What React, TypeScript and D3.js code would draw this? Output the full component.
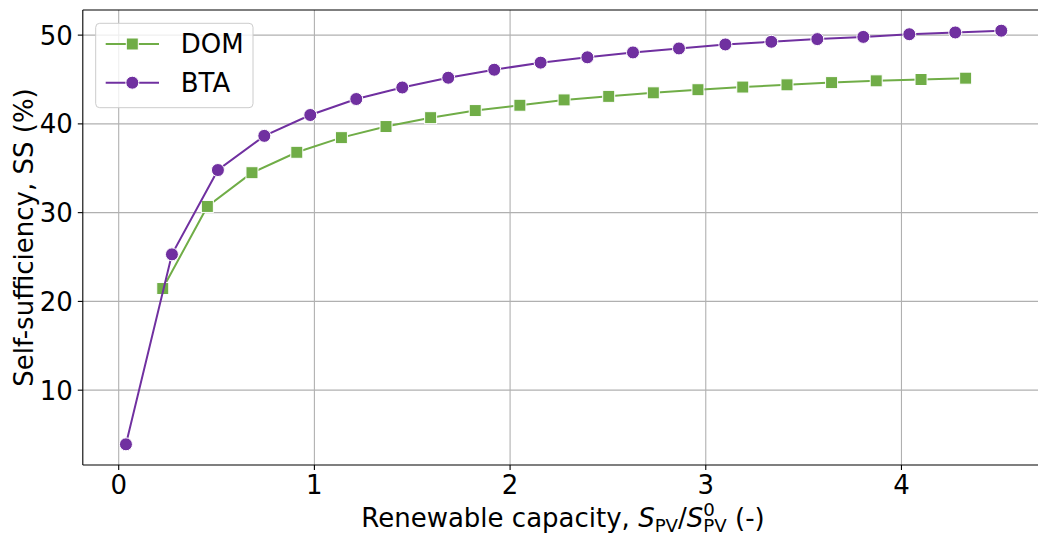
import React from "react";
import * as d3 from "d3";

const xTicks = [0, 1, 2, 3, 4];
const yTicks = [10, 20, 30, 40, 50];

const domX = [0.225, 0.453, 0.681, 0.91, 1.138, 1.366, 1.594, 1.822, 2.05, 2.276, 2.504, 2.732, 2.96, 3.189, 3.415, 3.643, 3.871, 4.1, 4.328];
const domY = [21.45, 30.7, 34.5, 36.8, 38.45, 39.7, 40.7, 41.5, 42.1, 42.7, 43.1, 43.5, 43.85, 44.15, 44.4, 44.65, 44.85, 45.0, 45.15];

const btaX = [0.037, 0.272, 0.507, 0.744, 0.979, 1.214, 1.449, 1.684, 1.919, 2.156, 2.395, 2.628, 2.863, 3.1, 3.335, 3.57, 3.805, 4.04, 4.275, 4.51];
const btaY = [3.9, 25.3, 34.8, 38.65, 41.0, 42.8, 44.1, 45.2, 46.1, 46.9, 47.5, 48.05, 48.5, 48.95, 49.25, 49.55, 49.8, 50.1, 50.3, 50.5];

const GREEN = "#70AD47";
const PURPLE = "#7030A0";
const FONT = "DejaVu Sans";

const W = 1038;
const H = 536;
const left = 82.8;
const right = 1045;
const top = 10;
const bottom = 465;
const FS = 26;
const SFS = 18.2;

export default function App() {
  const x = d3.scaleLinear().domain([-0.1835, 4.7335]).range([left, right]);
  const y = d3.scaleLinear().domain([1.57, 52.83]).range([bottom, top]);

  const dom = domX.map((v, i) => [v, domY[i]] as [number, number]);
  const bta = btaX.map((v, i) => [v, btaY[i]] as [number, number]);
  const line = d3
    .line<[number, number]>()
    .x((d) => x(d[0]))
    .y((d) => y(d[1]));

  const sq = 12;
  const r = 6.5;

  return (
    <svg
      width={W}
      height={H}
      style={{ position: "absolute", left: 0, top: 0, background: "#fff" }}
      fontFamily={FONT}
    >
      <defs>
        <clipPath id="plot">
          <rect x={left} y={top} width={right - left} height={bottom - top} />
        </clipPath>
      </defs>
      <rect x={0} y={0} width={W} height={H} fill="#fff" />
      {/* grid */}
      <g stroke="#b0b0b0" strokeWidth={1.1}>
        {xTicks.map((t) => (
          <line key={"gx" + t} x1={x(t)} x2={x(t)} y1={top} y2={bottom} />
        ))}
        {yTicks.map((t) => (
          <line key={"gy" + t} x1={left} x2={right} y1={y(t)} y2={y(t)} />
        ))}
      </g>
      {/* series */}
      <g clipPath="url(#plot)">
        <path d={line(dom) || ""} fill="none" stroke={GREEN} strokeWidth={2} />
        {dom.map((d, i) => (
          <rect
            key={"d" + i}
            x={x(d[0]) - sq / 2}
            y={y(d[1]) - sq / 2}
            width={sq}
            height={sq}
            fill={GREEN}
            stroke="#fff"
            strokeWidth={1}
          />
        ))}
        <path d={line(bta) || ""} fill="none" stroke={PURPLE} strokeWidth={2} />
        {bta.map((d, i) => (
          <circle
            key={"b" + i}
            cx={x(d[0])}
            cy={y(d[1])}
            r={r}
            fill={PURPLE}
            stroke="#fff"
            strokeWidth={1}
          />
        ))}
      </g>
      {/* spines */}
      <g stroke="#000" strokeWidth={1.1} fill="none">
        <line x1={left} x2={left} y1={top} y2={bottom} />
        <line x1={left} x2={right} y1={bottom} y2={bottom} />
        <line x1={left} x2={right} y1={top} y2={top} />
        <line x1={right} x2={right} y1={top} y2={bottom} />
      </g>
      {/* ticks */}
      <g stroke="#000" strokeWidth={1.1}>
        {xTicks.map((t) => (
          <line key={"tx" + t} x1={x(t)} x2={x(t)} y1={bottom} y2={bottom + 5} />
        ))}
        {yTicks.map((t) => (
          <line key={"ty" + t} x1={left - 5} x2={left} y1={y(t)} y2={y(t)} />
        ))}
      </g>
      <g fontSize={FS} fill="#000">
        {xTicks.map((t) => (
          <text key={"lx" + t} x={x(t)} y={bottom + 28.5} textAnchor="middle">
            {t}
          </text>
        ))}
        {yTicks.map((t) => (
          <text key={"ly" + t} x={left - 10} y={y(t) + 9.4} textAnchor="end">
            {t}
          </text>
        ))}
      </g>
      {/* axis labels */}
      <text x={563} y={527} textAnchor="middle" fontSize={FS} fill="#000">
        Renewable capacity,{" "}
        <tspan fontStyle="italic">S</tspan>
        <tspan fontSize={SFS} dy={5}>PV</tspan>
        <tspan dy={-5}>/</tspan>
        <tspan fontStyle="italic">S</tspan>
        <tspan fontSize={SFS} dy={-11}>0</tspan>
        <tspan fontSize={SFS} dx={-11.6} dy={16}>PV</tspan>
        <tspan dy={-5}> (-)</tspan>
      </text>
      <text
        transform={`translate(33, ${(top + bottom) / 2}) rotate(-90)`}
        textAnchor="middle"
        fontSize={FS}
        fill="#000"
      >
        Self-sufficiency, SS (%)
      </text>
      {/* legend */}
      <g>
        <rect
          x={95.7}
          y={23.3}
          width={157.3}
          height={84.4}
          rx={4}
          fill="#fff"
          fillOpacity={0.8}
          stroke="#cccccc"
          strokeWidth={1}
        />
        <line x1={105.7} x2={159} y1={44} y2={44} stroke={GREEN} strokeWidth={2} />
        <rect x={132.3 - sq / 2} y={44 - sq / 2} width={sq} height={sq} fill={GREEN} stroke="#fff" strokeWidth={1} />
        <text x={180.7} y={53.3} fontSize={FS} fill="#000">DOM</text>
        <line x1={105.7} x2={159} y1={82.7} y2={82.7} stroke={PURPLE} strokeWidth={2} />
        <circle cx={132.3} cy={82.7} r={r} fill={PURPLE} stroke="#fff" strokeWidth={1} />
        <text x={180.7} y={92} fontSize={FS} fill="#000">BTA</text>
      </g>
    </svg>
  );
}
